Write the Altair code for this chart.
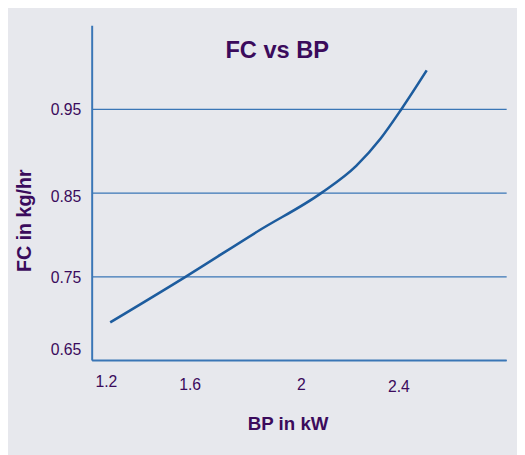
import altair as alt
import pandas as pd

# Data
bp_kw = [1.226, 1.538, 1.838, 2.094, 2.235, 2.336, 2.421, 2.524]
fc_kg_hr = [0.695, 0.750, 0.805, 0.850, 0.882, 0.915, 0.950, 0.996]
x_ticks = [1.2, 1.6, 2.0, 2.4]
y_ticks = [0.65, 0.75, 0.85, 0.95]

df = pd.DataFrame({"BP": bp_kw, "FC": fc_kg_hr})

PURPLE = "#3b0b5c"
AXIS_BLUE = "#3a76b6"
FONT = "Liberation Sans"

line = alt.Chart(df).mark_line(
    color="#1d5c9e", strokeWidth=2.6, interpolate="monotone"
).encode(
    x=alt.X(
        "BP:Q",
        scale=alt.Scale(domain=[1.15, 2.85], nice=False, zero=False),
        axis=alt.Axis(
            values=x_ticks,
            format="~g",
            title="BP in kW",
            grid=False,
            ticks=False,
            domainColor=AXIS_BLUE,
            domainWidth=2,
            labelFont=FONT,
            labelFontSize=16,
            labelColor=PURPLE,
            labelFlush=False,
            labelBaseline="top",
            labelPadding={
                "condition": [
                    {"test": "datum.value < 1.3", "value": 14},
                    {"test": "datum.value > 2.3", "value": 19},
                ],
                "value": 17,
            },
            labelOffset={
                "condition": [
                    {"test": "datum.value > 1.5 && datum.value < 1.7", "value": -12},
                ],
                "value": 2,
            },
            titleFont=FONT,
            titleFontSize=19,
            titleFontWeight="bold",
            titleColor=PURPLE,
            titleX=199,
            titleY=71,
            titleBaseline="alphabetic",
            titleAlign="center",
        ),
    ),
    y=alt.Y(
        "FC:Q",
        scale=alt.Scale(domain=[0.65, 1.05], nice=False, zero=False),
        axis=alt.Axis(
            values=y_ticks,
            format=".2f",
            title="FC in kg/hr",
            grid=True,
            gridColor=AXIS_BLUE,
            gridWidth=1.2,
            ticks=False,
            domainColor=AXIS_BLUE,
            domainWidth=2,
            labelFont=FONT,
            labelFontSize=16,
            labelColor=PURPLE,
            labelPadding=11,
            labelFlush=False,
            labelOffset={
                "condition": [
                    {"test": "datum.value < 0.7", "value": -11},
                    {"test": "datum.value > 0.8 && datum.value < 0.9", "value": 4},
                ],
                "value": 1,
            },
            titleFont=FONT,
            titleFontSize=20,
            titleFontWeight="bold",
            titleColor=PURPLE,
            titleAngle=270,
            titleX=-62,
            titleY=198,
            titleBaseline="alphabetic",
            titleAlign="center",
        ),
    ),
)

chart = line.properties(
    width=421,
    height=340,
    autosize=alt.AutoSizeParams(type="none"),
    padding={"left": 85, "top": 14, "right": 11, "bottom": 93},
    background="#e7e8ed",
    title=alt.TitleParams(
        "FC vs BP",
        font=FONT,
        fontSize=24,
        fontWeight="bold",
        color=PURPLE,
        anchor="middle",
        baseline="alphabetic",
        offset=0,
        dx=-22,
        dy=57,
    ),
).configure_view(stroke=None, fill="#e7e8ed")

chart.save("out.html", embed_options={"renderer": "svg", "actions": False})
